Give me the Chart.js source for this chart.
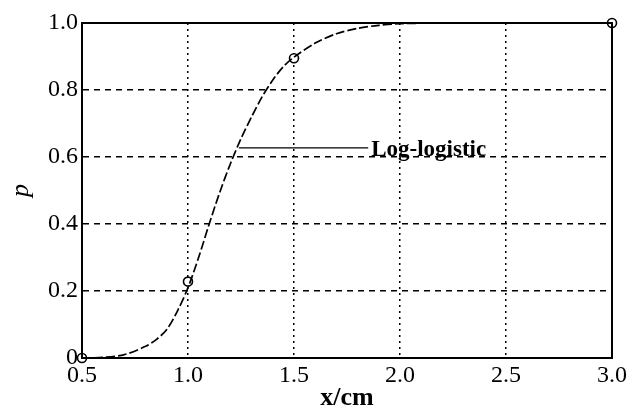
<!DOCTYPE html>
<html>
<head>
<meta charset="utf-8">
<script src="https://cdn.jsdelivr.net/npm/chart.js@4"></script>
<style>
  html, body { margin: 0; padding: 0; background: #fff; }
  #wrap { width: 637px; height: 410px; }
</style>
</head>
<body>
<div id="wrap"><canvas id="myChart" width="637" height="410"></canvas></div>
<script>
// fitted curve
const curveX = [0.5, 0.6, 0.7, 0.8, 0.85, 0.9, 0.95, 1.0, 1.05, 1.1, 1.15, 1.2, 1.25, 1.3, 1.35, 1.4, 1.45, 1.5, 1.6, 1.7, 1.8, 1.9, 2.0, 2.25, 2.5, 2.75, 3.0]
const curveP = [0, 0.002, 0.01, 0.035, 0.055, 0.085, 0.14, 0.21, 0.3, 0.4, 0.495, 0.58, 0.655, 0.72, 0.78, 0.83, 0.87, 0.898, 0.94, 0.968, 0.984, 0.993, 0.998, 1.0, 1.0, 1.0, 1.0]
// observed points
const obsX = [0.5, 1.0, 1.5, 3.0]
const obsP = [0, 0.228, 0.895, 1.0]
// label leader line
const leaderX = [1.24, 1.85]
const leaderP = [0.627, 0.627]
const labelText = 'Log-logistic'
const xTicks = [0.5, 1.0, 1.5, 2.0, 2.5, 3.0]
const yTicks = [0, 0.2, 0.4, 0.6, 0.8, 1.0]

const serif = "'Liberation Serif', 'Times New Roman', serif"

const frame = {
  id: 'frame',
  afterDraw(chart) {
    const {ctx, chartArea: a, scales} = chart
    ctx.save()
    ctx.strokeStyle = '#000'
    ctx.lineWidth = 2
    ctx.strokeRect(a.left, a.top, a.right - a.left, a.bottom - a.top)
    // label text at the end of the leader line
    ctx.fillStyle = '#000'
    ctx.font = 'bold 23px ' + serif
    ctx.textBaseline = 'middle'
    ctx.fillText(labelText, scales.x.getPixelForValue(leaderX[1]) + 3, scales.y.getPixelForValue(leaderP[1]) + 2)
    ctx.restore()
  }
}

const ctx = document.getElementById('myChart')
const myChart = new Chart(ctx, {
  type: 'scatter',
  data: {
    datasets: [
      {
        data: curveX.map((x, i) => ({x, y: curveP[i]})),
        showLine: true,
        borderColor: '#000',
        borderWidth: 1.7,
        borderDash: [9, 3],
        pointRadius: 0,
        tension: 0.3,
        clip: false
      },
      {
        data: leaderX.map((x, i) => ({x, y: leaderP[i]})),
        showLine: true,
        borderColor: '#000',
        borderWidth: 1.3,
        pointRadius: 0
      },
      {
        data: obsX.map((x, i) => ({x, y: obsP[i]})),
        showLine: false,
        pointStyle: 'circle',
        pointRadius: 4.5,
        pointBorderWidth: 1.6,
        pointBorderColor: '#000',
        pointBackgroundColor: '#fff',
        clip: false
      }
    ]
  },
  options: {
    responsive: false,
    animation: false,
    layout: { padding: { left: 0, right: 25, top: 23, bottom: 0 } },
    plugins: {
      legend: { display: false },
      tooltip: { enabled: false }
    },
    scales: {
      x: {
        type: 'linear',
        min: 0.5,
        max: 3.0,
        afterFit(s) { s.height = 52 },
        afterBuildTicks(s) { s.ticks = xTicks.map(v => ({value: v})) },
        ticks: {
          color: '#000',
          padding: 3,
          font: { family: serif, size: 24 },
          callback: v => v.toFixed(1)
        },
        grid: { color: '#000', lineWidth: 1.5, drawTicks: false },
        border: { color: '#000', width: 2, dash: [2, 4] },
        title: {
          display: true,
          text: 'x/cm',
          color: '#000',
          font: { family: serif, size: 26, weight: 'bold', lineHeight: 0.9 },
          padding: { top: 0, bottom: 0 }
        }
      },
      y: {
        min: 0,
        max: 1,
        afterFit(s) { s.width = 82 },
        afterBuildTicks(s) { s.ticks = yTicks.map(v => ({value: v})) },
        ticks: {
          color: '#000',
          padding: 4,
          font: { family: serif, size: 24 },
          callback: v => v === 0 ? '0' : v.toFixed(1)
        },
        grid: { color: '#000', lineWidth: 1.5, drawTicks: false },
        border: { color: '#000', width: 2, dash: [6, 5] },
        title: {
          display: true,
          text: 'p',
          color: '#000',
          font: { family: serif, size: 26, style: 'italic', lineHeight: 1.2 },
          padding: { top: 6, bottom: 0 }
        }
      }
    }
  },
  plugins: [frame]
})
</script>
</body>
</html>
